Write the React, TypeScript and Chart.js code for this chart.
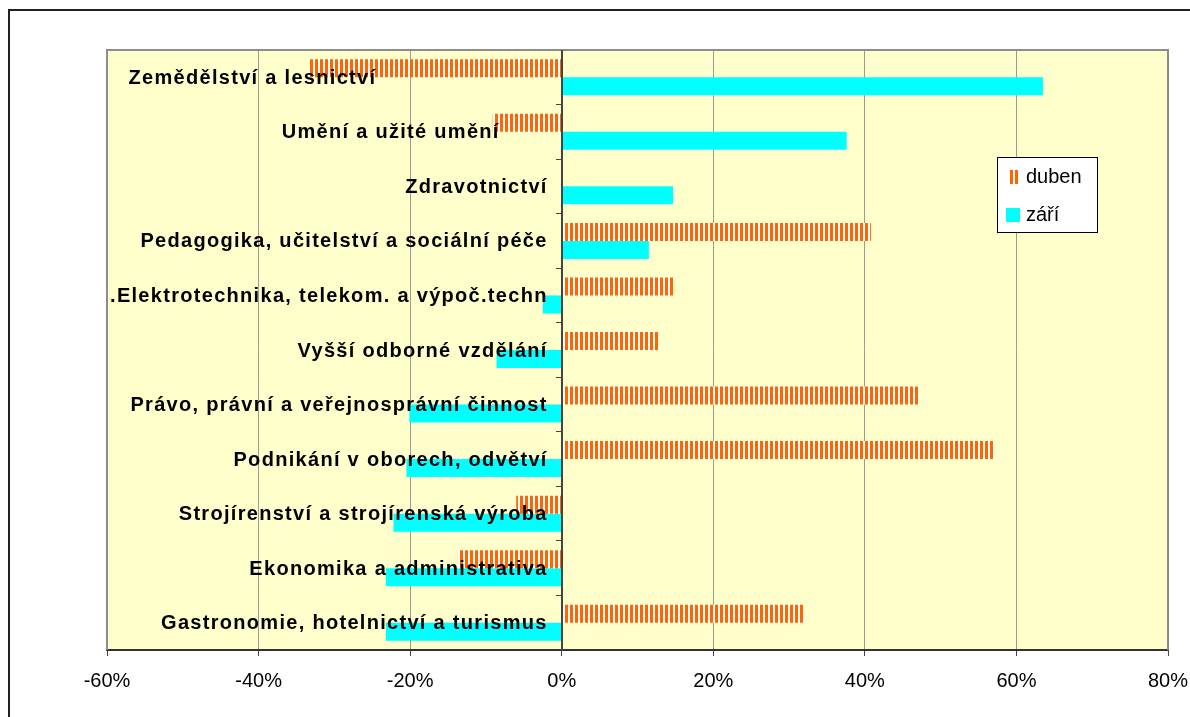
import { useEffect, useRef } from "react";
import { Chart, registerables } from "chart.js";

Chart.register(...registerables);

const categories = [
  "Zemědělství a lesnictví                         ",
  "Umění a užité umění       ",
  "Zdravotnictví",
  "Pedagogika, učitelství a sociální péče",
  ".Elektrotechnika, telekom. a výpoč.techn",
  "Vyšší odborné vzdělání",
  "Právo, právní a veřejnosprávní činnost",
  "Podnikání v oborech, odvětví",
  "Strojírenství a strojírenská výroba",
  "Ekonomika a administrativa",
  "Gastronomie, hotelnictví a turismus",
];

const seriesNames = ["duben", "září"];
const duben = [-33.3, -9.1, 0, 40.8, 14.7, 12.8, 47.2, 57.1, -6.0, -13.7, 32.0];
const zari = [63.5, 37.6, 14.7, 11.5, -2.5, -8.6, -20.1, -20.5, -22.2, -23.2, -23.2];
const xMin = -60;
const xMax = 80;
const xStep = 20;

const FONT = "'Liberation Sans', Arial, sans-serif";

function makeStripePattern(): CanvasPattern | string {
  const c = document.createElement("canvas");
  c.width = 5;
  c.height = 4;
  const g = c.getContext("2d");
  if (!g) return "#FF6600";
  g.fillStyle = "#FFFFFF";
  g.fillRect(0, 0, 5, 4);
  g.fillStyle = "#FF6600";
  g.fillRect(0, 0, 3, 4);
  const p = g.createPattern(c, "repeat");
  return p || "#FF6600";
}

export default function App() {
  const ref = useRef<HTMLCanvasElement | null>(null);

  useEffect(() => {
    const canvas = ref.current;
    if (!canvas) return;
    const stripes = makeStripePattern();

    const areaPlugin = {
      id: "areaPlugin",
      beforeDraw(chart: any) {
        const { ctx, chartArea: a } = chart;
        ctx.save();
        ctx.fillStyle = "#FFFFCC";
        ctx.fillRect(a.left, a.top, a.right - a.left, a.bottom - a.top);
        ctx.restore();
      },
      beforeDatasetsDraw(chart: any) {
        const { ctx, chartArea: a } = chart;
        ctx.save();
        ctx.strokeStyle = "#8c8c8c";
        ctx.lineWidth = 2;
        ctx.beginPath();
        ctx.moveTo(a.left, a.bottom);
        ctx.lineTo(a.left, a.top);
        ctx.lineTo(a.right, a.top);
        ctx.lineTo(a.right, a.bottom);
        ctx.stroke();
        ctx.restore();
      },
      afterDatasetsDraw(chart: any) {
        const ctx = chart.ctx as any;
        const xs = chart.scales.x;
        const a = chart.chartArea;
        const px = Math.round(xs.getPixelForValue(0));
        ctx.save();
        ctx.strokeStyle = "#444";
        ctx.lineWidth = 2;
        ctx.beginPath();
        ctx.moveTo(px, a.top);
        ctx.lineTo(px, a.bottom);
        ctx.stroke();
        ctx.restore();
        ctx.save();
        ctx.letterSpacing = "1.3px";
        ctx.translate(-14, 1);
      },
      afterDraw(chart: any) {
        const ctx = chart.ctx;
        ctx.restore();
        (ctx as any).letterSpacing = "0px";
        const x = 997.5, y = 157.5, w = 100, h = 75;
        ctx.save();
        ctx.fillStyle = "#FFFFFF";
        ctx.fillRect(x, y, w, h);
        ctx.strokeStyle = "#000000";
        ctx.lineWidth = 1;
        ctx.strokeRect(x, y, w, h);
        const ds = chart.data.datasets;
        ctx.font = `20px ${FONT}`;
        ctx.textBaseline = "middle";
        ctx.fillStyle = ds[0].backgroundColor;
        ctx.fillRect(1008, 170, 11, 14);
        ctx.fillStyle = ds[1].backgroundColor;
        ctx.fillRect(1006, 208, 14, 14);
        ctx.fillStyle = "#000";
        ctx.fillText(ds[0].label, 1026, 177);
        ctx.fillText(ds[1].label, 1026, 215);
        ctx.restore();
      },
    };

    const chart = new Chart(canvas, {
      type: "bar",
      data: {
        labels: categories,
        datasets: [
          {
            label: seriesNames[0],
            data: duben,
            backgroundColor: stripes as any,
            borderWidth: 0,
            categoryPercentage: 0.66,
            barPercentage: 1,
          },
          {
            label: seriesNames[1],
            data: zari,
            backgroundColor: "#00FFFF",
            borderWidth: 0,
            categoryPercentage: 0.66,
            barPercentage: 1,
          },
        ],
      },
      options: {
        indexAxis: "y",
        animation: false,
        responsive: false,
        maintainAspectRatio: false,
        layout: { padding: { left: 107, right: 22, top: 50, bottom: 27 } },
        plugins: {
          legend: { display: false },
          tooltip: { enabled: false },
        },
        scales: {
          x: {
            type: "linear",
            position: "bottom",
            min: xMin,
            max: xMax,
            afterFit(scale: any) {
              scale.height = 40;
              scale.paddingRight = 0;
              scale.paddingLeft = 0;
            },
            ticks: {
              stepSize: xStep,
              color: "#000",
              font: { family: FONT, size: 20 },
              padding: 13,
              callback: (v: any) => `${v}%`,
            },
            grid: {
              color: "#9a9a9a",
              lineWidth: 1,
              tickLength: 6,
              tickColor: "#444",
            },
            border: { color: "#333", width: 2 },
          },
          y: {
            type: "category",
            position: { x: 0 } as any,
            ticks: {
              autoSkip: false,
              color: "#000",
              font: { family: FONT, size: 20, weight: "bold" },
              padding: 10,
              z: 1,
            } as any,
            grid: {
              drawOnChartArea: false,
              drawTicks: true,
              tickLength: 5,
              tickColor: "#444",
              offset: true,
            },
            border: { color: "#444", width: 2 },
          },
        },
      },
      plugins: [areaPlugin],
    });

    return () => chart.destroy();
  }, []);

  return (
    <div>
      <canvas
        ref={ref}
        width={1190}
        height={717}
        style={{ position: "fixed", left: 0, top: 0, width: 1190, height: 717 }}
      />
      <div
        style={{
          position: "fixed",
          left: 8,
          top: 9,
          width: 1300,
          height: 800,
          borderTop: "2px solid #222",
          borderLeft: "2px solid #222",
          pointerEvents: "none",
        }}
      />
    </div>
  );
}
